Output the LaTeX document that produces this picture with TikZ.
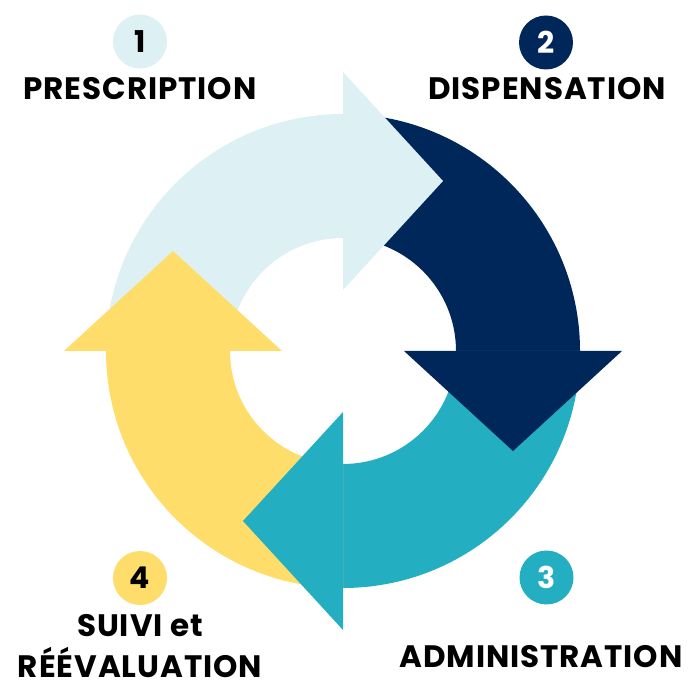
\documentclass[tikz,border=0pt]{standalone}
\usepackage{fontspec}
\setmainfont{Poppins}
\usetikzlibrary{calc}
\definecolor{steplight}{HTML}{DDF1F5}
\definecolor{stepnavy}{HTML}{00275A}
\definecolor{stepteal}{HTML}{23AEC2}
\definecolor{stepyellow}{HTML}{FEDD6B}
\tikzset{
  badge/.style={circle, minimum size=54pt, inner sep=0pt, font=\fontsize{30}{36}\selectfont\bfseries},
  steptext/.style={anchor=base, align=center, inner sep=0pt,
    font=\fontsize{31}{36}\selectfont\bfseries\addfontfeature{LetterSpace=3.0}}
}
\begin{document}
\begin{tikzpicture}[x=1pt, y=1pt, line join=round]
		\useasboundingbox (0,0) rectangle (700,700);
		\coordinate (C) at (343,349);
		
		% ===== ring: arrow bodies first =====
		\foreach \a/\col in {180/steplight, 90/stepnavy, 0/stepteal, -90/stepyellow}{
			\fill[\col] ($(C)+(\a:237)$) arc[start angle=\a, end angle=\a-90, radius=237]
			-- ($(C)+(\a-90:113)$) arc[start angle=\a-90, end angle=\a, radius=113] -- cycle;
		}
		
		% ===== arrow heads on top (each one covers the start of the next body) =====
		\foreach \r/\col in {0/steplight, -90/stepnavy, -180/stepteal, -270/stepyellow}{
			\begin{scope}[shift={(C)}, rotate=\r]
				\fill[\col] (0,61) -- (0,279) -- (100,170) -- cycle;
			\end{scope}
		}
		
		% ===== numbered badges =====
		\node[badge, fill=steplight, text=black] (badge1) at (140,658.5) {1};
		\node[badge, fill=stepnavy, text=white] (badge2) at (546,657.5) {2};
		\node[badge, fill=stepteal, text=white] (badge3) at (546.5,122.5) {3};
		\node[badge, fill=stepyellow, text=black] (badge4) at (140,122) {4};
		
		% ===== step names =====
		\node[steptext] (name1) at (140,600) {PRESCRIPTION};
		\node[steptext] (name2) at (547,600) {DISPENSATION};
		\node[steptext] (name3) at (541,32) {ADMINISTRATION};
		\node[steptext] (name4a) at (140,63) {SUIVI et};
		\node[steptext] (name4b) at (140,22) {RÉÉVALUATION};
		
	\end{tikzpicture}
\end{document}
